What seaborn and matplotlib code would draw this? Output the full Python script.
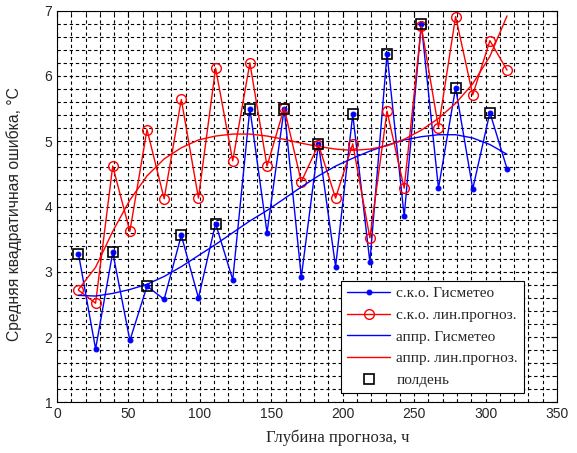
import numpy as np
import pandas as pd
import matplotlib
matplotlib.use('Agg')
import matplotlib.pyplot as plt
from matplotlib.ticker import MultipleLocator
import seaborn as sns

# ── Data ──────────────────────────────────────────────────────────────────────
hours = [15, 27, 39, 51, 63, 75, 87, 99, 111, 123, 135, 147, 159, 171,
         183, 195, 207, 219, 231, 243, 255, 267, 279, 291, 303, 315]

rmse_gismeteo = [3.28, 1.82, 3.30, 1.95, 2.78, 2.58, 3.56, 2.60, 3.74, 2.88,
                 5.50, 3.60, 5.50, 2.92, 4.96, 3.08, 5.41, 3.15, 6.34, 3.85,
                 6.80, 4.28, 5.82, 4.27, 5.44, 4.58]

rmse_linear = [2.72, 2.52, 4.62, 3.62, 5.18, 4.12, 5.64, 4.13, 6.12, 4.70,
               6.20, 4.62, 5.51, 4.38, 4.95, 4.13, 4.96, 3.52, 5.46, 4.28,
               6.76, 5.21, 6.91, 5.71, 6.54, 6.09]

approx_gismeteo = [2.64, 2.63, 2.67, 2.73, 2.81, 2.93, 3.08, 3.25, 3.42, 3.60,
                   3.78, 3.94, 4.12, 4.30, 4.47, 4.62, 4.74, 4.85, 4.94, 5.02,
                   5.07, 5.10, 5.10, 5.05, 4.95, 4.80]

approx_linear = [2.73, 3.07, 3.62, 4.10, 4.47, 4.73, 4.90, 5.02, 5.08, 5.11,
                 5.11, 5.08, 5.03, 4.97, 4.92, 4.88, 4.86, 4.88, 4.93, 5.03,
                 5.17, 5.35, 5.58, 5.88, 6.30, 6.92]

# noon forecasts: every second point of Gismeteo series
noon_hours = hours[::2]
noon_values = rmse_gismeteo[::2]

df = pd.DataFrame({'h': hours, 'gis': rmse_gismeteo, 'lin': rmse_linear,
                   'agis': approx_gismeteo, 'alin': approx_linear})
noon = pd.DataFrame({'h': noon_hours, 'v': noon_values})

# ── Plot ──────────────────────────────────────────────────────────────────────
sns.set_style('white')
plt.rcParams['font.family'] = ['Liberation Sans', 'DejaVu Sans']

fig = plt.figure(figsize=(5.77, 4.53), dpi=100)
ax = fig.add_axes([0.0988, 0.1115, 0.8666, 0.865])

BLUE = '#0000ff'
RED = '#ff0000'

sns.lineplot(data=df, x='h', y='gis', ax=ax, color=BLUE, linewidth=1,
             marker='o', markersize=3.5, markeredgecolor=BLUE,
             label='с.к.о. Гисметео')
sns.lineplot(data=df, x='h', y='lin', ax=ax, color=RED, linewidth=1,
             marker='o', markersize=7, markerfacecolor='none',
             markeredgecolor=RED, markeredgewidth=1,
             label='с.к.о. лин.прогноз.')
sns.lineplot(data=df, x='h', y='agis', ax=ax, color=BLUE, linewidth=1,
             label='аппр. Гисметео')
sns.lineplot(data=df, x='h', y='alin', ax=ax, color=RED, linewidth=1,
             label='аппр. лин.прогноз.')
sns.lineplot(data=noon, x='h', y='v', ax=ax, color='black', linestyle='none',
             marker='s', markersize=7, markerfacecolor='none',
             markeredgecolor='black', markeredgewidth=1.2,
             label='полдень')

ax.set_xlim(0, 350)
ax.set_ylim(1, 7)
ax.xaxis.set_major_locator(MultipleLocator(50))
ax.xaxis.set_minor_locator(MultipleLocator(10))
ax.yaxis.set_major_locator(MultipleLocator(1))
ax.yaxis.set_minor_locator(MultipleLocator(0.2))

ax.grid(which='both', color='black', linestyle=(0, (3, 2.5)), linewidth=0.8)
ax.tick_params(which='both', direction='in', top=True, right=True,
               labelsize=10, color='black')
ax.tick_params(which='major', length=4, width=0.8)
ax.tick_params(which='minor', length=2, width=0.6)
for sp in ax.spines.values():
    sp.set_color('black')
    sp.set_linewidth(0.8)

ax.set_xlabel('Глубина прогноза, ч', family=['Liberation Serif'], fontsize=12)
ax.xaxis.set_label_coords(0.562, -0.068)
ax.set_ylabel('Средняя квадратичная ошибка, °C', fontsize=11.3)
ax.yaxis.set_label_coords(-0.07, 0.48)

leg = ax.legend(loc='lower right', bbox_to_anchor=(0.934, 0.024),
                prop={'family': 'Liberation Serif', 'size': 11},
                frameon=True, fancybox=False, framealpha=1,
                edgecolor='black', borderpad=0.4, labelspacing=0.52,
                handlelength=2.8, handletextpad=0.4, borderaxespad=0)
leg.get_frame().set_linewidth(0.8)

fig.savefig('out.png', dpi=100)
